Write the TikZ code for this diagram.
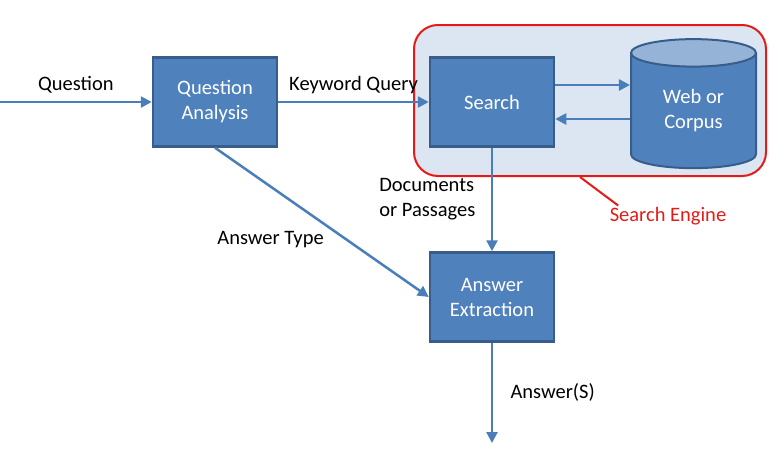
\documentclass[tikz,border=0pt]{standalone}
\usepackage{fontspec}
\setmainfont{Carlito}
\usetikzlibrary{arrows.meta,shapes.geometric}
\definecolor{boxblue}{HTML}{4F81BD}
\definecolor{boxedge}{HTML}{385D8A}
\definecolor{flowblue}{HTML}{4A7EBB}
\definecolor{enginefill}{HTML}{DCE6F2}
\definecolor{topfill}{HTML}{95B3D7}
\definecolor{calloutred}{HTML}{E41B17}

\begin{document}
\begin{tikzpicture}[x=1pt,y=-1pt,>={Triangle[length=11pt,width=11pt]},
  font=\fontsize{20.5}{25}\selectfont,
  stage/.style={draw=boxedge,line width=2.5pt,fill=boxblue,text=white,
    minimum width=124pt,minimum height=89pt,align=center,inner sep=0pt},
  flow/.style={->,draw=flowblue,line width=2.5pt}]
  \useasboundingbox (0,0) rectangle (777,453);
  % search engine frame
  \node[draw=calloutred,line width=2pt,fill=enginefill,rounded corners=24pt,
    minimum width=352pt,minimum height=151pt] (engine) at (590,100.5) {};
  \node[text=calloutred] (se) at (668,216) {Search Engine};
  \draw[calloutred,line width=2pt] ([xshift=-10pt]engine.south) -- ([xshift=12pt,yshift=-2pt]se.north west);
  % stages
  \node[stage] (qa) at (215,102) {Question\\Analysis};
  \node[stage] (search) at (492,102) {Search};
  \node[stage] (ae) at (492,297) {Answer\\Extraction};
  \node[cylinder,shape border rotate=90,aspect=0.45,draw=boxedge,line width=2pt,
    cylinder uses custom fill,cylinder body fill=boxblue,cylinder end fill=topfill,
    minimum width=125pt,minimum height=129pt,text=white,align=center,inner sep=0pt]
    (corpus) at (693.5,111) {Web or\\Corpus};
  % flows
  \coordinate (in) at (0,102);
  \coordinate (out) at (492,443);
  \draw[flow] (in) -- (qa) node[midway,above=4pt] {Question};
  \draw[flow] (qa) -- (search) node[midway,above=4pt] {Keyword Query};
  \draw[flow] ([yshift=17pt]search.east) -- ([yshift=17pt]search.east -| corpus.west);
  \draw[flow] ([yshift=-17pt]search.east -| corpus.west) -- ([yshift=-17pt]search.east);
  \draw[flow] (search) -- (ae) node[midway,left=12pt,align=left] {Documents\\or Passages};
  \draw[flow] (qa.south) -- (ae.west) node[pos=0.53,anchor=north east] {Answer Type};
  \draw[flow] (ae) -- (out) node[midway,right=14pt] {Answer(S)};
\end{tikzpicture}
\end{document}
